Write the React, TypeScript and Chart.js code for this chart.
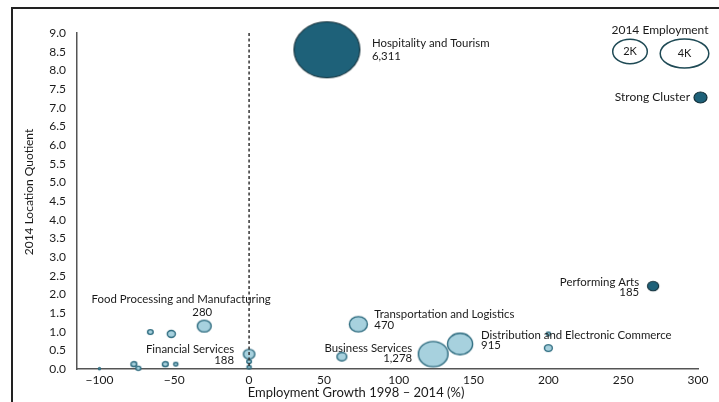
import React, { useEffect, useRef } from 'react';
import { Chart, registerables } from 'chart.js';

Chart.register(...registerables);

// ---- data ----
const clusterNames = [
  'Hospitality and Tourism',
  'Performing Arts',
  'Food Processing and Manufacturing',
  'Financial Services',
  'Transportation and Logistics',
  'Business Services',
  'Distribution and Electronic Commerce',
  '', '', '', '', '', '', '', '', '', '', '', '',
];
const employmentGrowth = [52, 270, -30, 0, 73, 123, 141, -66, -52, -77, -74, -56, -49, -100, 0, 0, 62, 200, 200];
const locationQuotient = [8.55, 2.22, 1.15, 0.4, 1.2, 0.4, 0.67, 0.99, 0.94, 0.13, 0.02, 0.13, 0.13, 0.01, 0.2, 0.05, 0.33, 0.56, 0.94];
const employment2014 = [6311, 185, 280, 188, 470, 1278, 915, 45, 95, 50, 35, 50, 25, 5, 30, 25, 140, 90, 25];
const strongCluster = [true, true, false, false, false, false, false, false, false, false, false, false, false, false, false, false, false, false, false];

const xTickValues = [-100, -50, 0, 50, 100, 150, 200, 250, 300];
const yTickValues = [0, 0.5, 1, 1.5, 2, 2.5, 3, 3.5, 4, 4.5, 5, 5.5, 6, 6.5, 7, 7.5, 8, 8.5, 9];
const legendSizeLabels = ['2K', '4K'];

const xTitle = 'Employment Growth 1998 \u2013 2014 (%)';
const yTitle = '2014 Location Quotient';
const legendTitle = '2014 Employment';
const strongLabel = 'Strong Cluster';

// ---- styles ----
const FONT = 'Lato, "Open Sans", sans-serif';
const DARK = '#1e6179';
const LIGHT = '#a7d1de';
const LIGHT_STROKE = '#2c6a7e';
const TEXT = '#1a1a1a';
const KX = 0.415;
const KY = 0.353;

// label offsets (px) relative to bubble centre: [dx1, dy1, dx2, dy2, align1, align2]
const labelLayout: Record<number, [number, number, number, number, CanvasTextAlign, CanvasTextAlign]> = {
  0: [45, -6, 45, 7, 'left', 'left'],
  1: [-14, -4, -14, 6, 'right', 'right'],
  2: [-23, -27, -2, -14, 'center', 'center'],
  3: [-15, -5, -15, 6, 'right', 'right'],
  4: [16, -10, 16, 1, 'left', 'left'],
  5: [-21, -6, -21, 4, 'right', 'right'],
  6: [21, -9, 21, 1, 'left', 'left'],
};

function ellipseImage(rx: number, ry: number, fill: string, stroke: string, lw: number) {
  const c = document.createElement('canvas');
  const w = Math.ceil(rx * 2 + lw * 2 + 2);
  const h = Math.ceil(ry * 2 + lw * 2 + 2);
  c.width = w;
  c.height = h;
  const g = c.getContext('2d')!;
  g.beginPath();
  g.ellipse(w / 2, h / 2, rx, ry, 0, 0, Math.PI * 2);
  g.fillStyle = fill;
  g.fill();
  g.lineWidth = lw;
  g.strokeStyle = stroke;
  g.stroke();
  return c;
}

const fmtTick = (v: number) => (v < 0 ? '\u2212' + Math.abs(v) : String(v));

export default function App() {
  const ref = useRef<HTMLCanvasElement>(null);

  useEffect(() => {
    const canvas = ref.current!;
    const images = employment2014.map((e, i) => {
      const s = Math.sqrt(e);
      const rx = Math.max(1, KX * s);
      const ry = Math.max(1, KY * s);
      return strongCluster[i]
        ? ellipseImage(rx, ry, DARK, '#14303a', 1.1)
        : ellipseImage(rx, ry, LIGHT, LIGHT_STROKE, 1.4);
    });

    const overlay = {
      id: 'overlay',
      afterDatasetsDraw(chart: any) {
        const { ctx, chartArea, scales } = chart;
        const x0 = scales.x.getPixelForValue(0);
        ctx.save();
        // dashed zero line
        ctx.beginPath();
        ctx.setLineDash([3, 2.5]);
        ctx.strokeStyle = '#333';
        ctx.lineWidth = 1.5;
        ctx.moveTo(x0, chartArea.top);
        ctx.lineTo(x0, chartArea.bottom);
        ctx.stroke();
        ctx.setLineDash([]);

        // labels
        const meta = chart.getDatasetMeta(0);
        ctx.fillStyle = TEXT;
        ctx.font = `11.4px ${FONT}`;
        ctx.textBaseline = 'middle';
        Object.keys(labelLayout).forEach((k) => {
          const i = Number(k);
          const el = meta.data[i];
          const [dx1, dy1, dx2, dy2, a1, a2] = labelLayout[i];
          ctx.textAlign = a1;
          ctx.fillText(clusterNames[i], el.x + dx1, el.y + dy1);
          ctx.textAlign = a2;
          ctx.fillText(employment2014[i].toLocaleString('en-US'), el.x + dx2, el.y + dy2);
        });

        // legend
        ctx.font = `12px ${FONT}`;
        ctx.textAlign = 'center';
        ctx.fillText(legendTitle, 660, 30);
        const legendShapes = [
          [630, 51.5, 17.3, 12.2],
          [684.5, 53.5, 24.3, 14.5],
        ];
        legendShapes.forEach(([cx, cy, rx, ry], j) => {
          ctx.beginPath();
          ctx.ellipse(cx, cy, rx, ry, 0, 0, Math.PI * 2);
          ctx.fillStyle = '#fff';
          ctx.fill();
          ctx.lineWidth = 1.5;
          ctx.strokeStyle = '#1f4a55';
          ctx.stroke();
          ctx.fillStyle = TEXT;
          ctx.font = `11px ${FONT}`;
          ctx.fillText(legendSizeLabels[j], cx, cy);
        });
        ctx.font = `12px ${FONT}`;
        ctx.textAlign = 'right';
        ctx.fillText(strongLabel, 690, 97.5);
        ctx.beginPath();
        ctx.ellipse(700.5, 97.5, 6.5, 5.5, 0, 0, Math.PI * 2);
        ctx.fillStyle = DARK;
        ctx.fill();
        ctx.lineWidth = 1.2;
        ctx.strokeStyle = '#14303a';
        ctx.stroke();

        // axis titles
        ctx.fillStyle = TEXT;
        ctx.textAlign = 'center';
        ctx.font = `13px ${FONT}`;
        ctx.fillText(xTitle, 356, 393);
        ctx.translate(29, 192);
        ctx.rotate(-Math.PI / 2);
        ctx.font = `12px ${FONT}`;
        ctx.fillText(yTitle, 0, 0);
        ctx.restore();
      },
    };

    const chart = new Chart(canvas, {
      type: 'scatter',
      data: {
        datasets: [
          {
            data: employmentGrowth.map((g, i) => ({ x: g, y: locationQuotient[i] })),
            pointStyle: (c: any) => images[c.dataIndex] as any,
            pointRadius: 3,
            clip: false as any,
          },
        ],
      },
      options: {
        responsive: false,
        animation: false,
        events: [],
        layout: { padding: { top: 33, right: 21, left: 0, bottom: 0 } },
        plugins: { legend: { display: false }, tooltip: { enabled: false } },
        scales: {
          x: {
            type: 'linear',
            min: -115,
            max: 300,
            afterBuildTicks: (s: any) => {
              s.ticks = xTickValues.map((v) => ({ value: v }));
            },
            afterFit: (s: any) => {
              s.height = 33;
            },
            ticks: {
              callback: (v: any) => fmtTick(Number(v)),
              font: { family: FONT, size: 12 },
              color: TEXT,
              padding: 4,
              maxRotation: 0,
            },
            grid: { display: false, drawTicks: false },
            border: { display: true, color: '#555', width: 1.5 },
          },
          y: {
            type: 'linear',
            min: 0,
            max: 9,
            afterBuildTicks: (s: any) => {
              s.ticks = yTickValues.map((v) => ({ value: v }));
            },
            afterFit: (s: any) => {
              s.width = 77;
            },
            ticks: {
              callback: (v: any) => Number(v).toFixed(1),
              font: { family: FONT, size: 12 },
              color: TEXT,
              padding: 11,
            },
            grid: { display: false, drawTicks: false },
            border: { display: true, color: '#555', width: 1.5 },
          },
        },
      },
      plugins: [overlay],
    });
    return () => chart.destroy();
  }, []);

  return (
    <div style={{ position: 'fixed', left: 0, top: 0, width: 719, height: 402, background: '#fff', overflow: 'hidden' }}>
      <div
        style={{
          position: 'absolute',
          left: 11,
          top: 7,
          width: 720,
          height: 400,
          borderLeft: '2px solid #222',
          borderTop: '2px solid #222',
        }}
      />
      <canvas ref={ref} width={719} height={402} style={{ position: 'absolute', left: 0, top: 0 }} />
    </div>
  );
}
